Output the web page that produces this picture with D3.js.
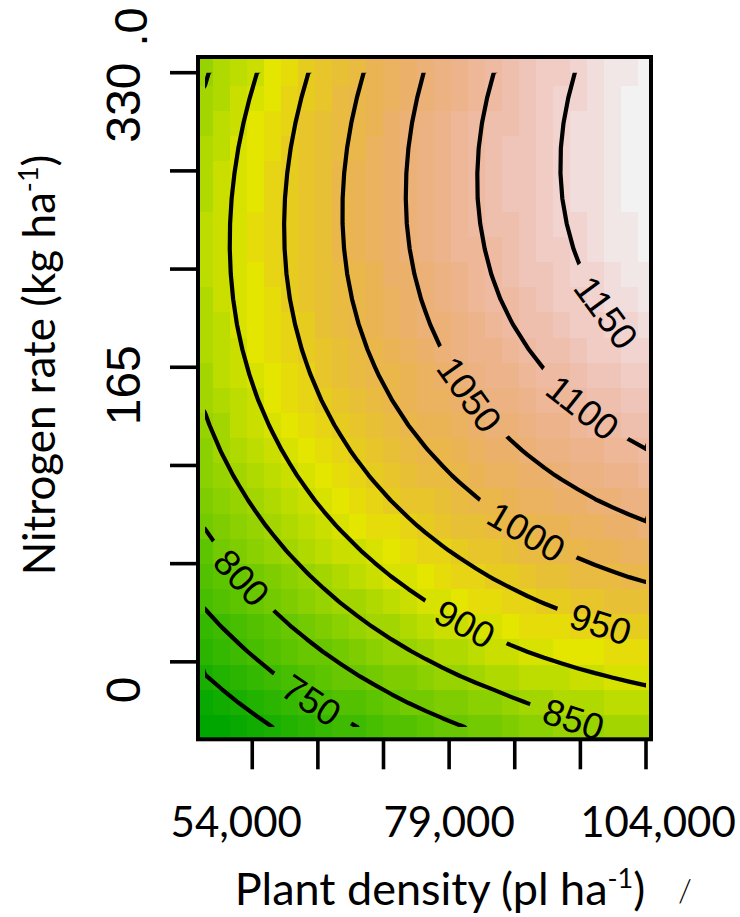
<!DOCTYPE html>
<html><head><meta charset="utf-8">
<script src="https://cdn.jsdelivr.net/npm/d3@7"></script>
<style>html,body{margin:0;padding:0;background:#fff;} svg{display:block;}</style>
</head><body>
<svg id="chart" width="740" height="917"></svg>
<script>
// ---------------- data ----------------
const densityGrid = [48000,50154,52308,54462,56615,58769,60923,63077,65231,67385,69538,71692,73846,76000,78154,80308,82462,84615,86769,88923,91077,93231,95385,97538,99692,101846,104000];
const nitrogenGrid = [-36.5,-22.4,-8.3,5.8,19.9,34.0,48.1,62.2,76.3,90.4,104.5,118.6,132.7,146.7,160.8,174.9,189.0,203.1,217.2,231.3,245.4,259.5,273.6,287.7,301.8,315.9,330.0];
// yield (kg ha-1), one row per nitrogen level (bottom to top)
const yieldGrid = [
[654.0,666.1,677.9,689.3,700.3,711.0,721.3,731.3,740.9,750.1,759.0,767.5,775.7,783.5,790.9,798.0,804.7,811.1,819.1,825.7,832.0,837.9,843.5,848.7,853.5,857.0,860.1],
[676.8,689.1,701.1,712.7,724.0,734.9,745.5,755.6,765.5,774.9,784.0,792.8,801.2,809.2,816.9,824.2,831.1,837.7,844.9,851.3,857.3,862.9,868.2,873.1,877.7,881.4,884.8],
[698.3,710.9,723.1,735.0,746.5,757.6,768.4,778.8,788.8,798.5,807.8,816.8,825.4,833.7,841.6,849.1,856.3,863.1,869.5,875.6,881.3,886.7,891.7,896.4,900.7,904.6,908.2],
[718.7,731.5,743.9,756.0,767.7,779.0,790.0,800.7,810.9,820.9,830.4,839.6,848.4,856.9,865.0,872.8,880.2,887.2,893.9,900.2,906.2,911.8,917.0,921.9,926.4,930.5,934.3],
[737.7,750.8,763.4,775.7,787.7,799.2,810.5,821.3,831.8,842.0,851.7,861.2,870.2,878.9,887.3,895.2,902.9,910.1,917.0,923.6,929.7,935.6,941.0,946.1,950.9,955.2,959.3],
[755.6,768.8,781.7,794.3,806.4,818.2,829.7,840.8,851.5,861.8,871.9,881.5,890.8,899.7,908.3,916.5,924.3,931.8,938.9,945.7,952.1,958.1,963.8,969.2,974.1,978.7,983.0],
[772.2,785.7,798.8,811.6,823.9,836.0,847.6,859.0,869.9,880.5,890.7,900.6,910.1,919.3,928.0,936.5,944.5,952.3,959.6,966.6,973.2,979.5,985.4,991.0,996.1,1001.0,1005.4],
[787.6,801.3,814.7,827.6,840.2,852.5,864.4,875.9,887.1,897.9,908.4,918.5,928.2,937.6,946.6,955.2,963.5,971.5,979.1,986.3,993.1,999.6,1005.8,1011.5,1016.9,1022.0,1026.7],
[801.8,815.7,829.3,842.5,855.3,867.8,879.9,891.7,903.1,914.1,924.8,935.1,945.1,954.7,963.9,972.8,981.3,989.5,997.3,1004.7,1011.8,1018.5,1024.9,1030.9,1036.5,1041.8,1046.7],
[814.7,828.8,842.6,856.1,869.1,881.8,894.2,906.2,917.8,929.0,940.0,950.5,960.7,970.5,980.0,989.1,997.8,1006.2,1014.2,1021.9,1029.2,1036.1,1042.7,1049.0,1054.8,1060.3,1065.5],
[826.4,840.8,854.8,868.4,881.7,894.7,907.2,919.4,931.3,942.8,953.9,964.7,975.1,985.1,994.8,1004.2,1013.1,1021.7,1030.0,1037.9,1045.4,1052.6,1059.4,1065.8,1071.9,1077.7,1083.0],
[836.9,851.5,865.7,879.6,893.1,906.2,919.0,931.5,943.5,955.3,966.6,977.6,988.2,998.5,1008.4,1018.0,1027.2,1036.0,1044.5,1052.6,1060.4,1067.8,1074.8,1081.5,1087.8,1093.7,1099.3],
[846.1,860.9,875.4,889.5,903.2,916.6,929.6,942.3,954.6,966.5,978.1,989.3,1000.2,1010.7,1020.8,1030.6,1040.0,1049.1,1057.8,1066.1,1074.1,1081.7,1089.0,1095.9,1102.4,1108.6,1114.4],
[854.1,869.1,883.8,898.2,912.1,925.7,939.0,951.9,964.4,976.5,988.4,999.8,1010.9,1021.6,1032.0,1042.0,1051.6,1060.9,1069.8,1078.4,1086.6,1094.4,1101.9,1109.1,1115.8,1122.2,1128.3],
[860.9,876.1,891.0,905.6,919.8,933.6,947.1,960.2,972.9,985.3,997.4,1009.0,1020.3,1031.3,1041.9,1052.1,1062.0,1071.5,1080.6,1089.4,1097.9,1105.9,1113.6,1121.0,1128.0,1134.6,1140.9],
[866.4,881.9,897.0,911.8,926.2,940.3,954.0,967.3,980.3,992.9,1005.2,1017.0,1028.6,1039.8,1050.6,1061.0,1071.1,1080.9,1090.2,1099.2,1107.9,1116.2,1124.1,1131.7,1138.9,1145.8,1152.3],
[870.7,886.4,901.8,916.8,931.4,945.7,959.6,973.2,986.4,999.2,1011.7,1023.8,1035.6,1047.0,1058.0,1068.7,1079.0,1089.0,1098.6,1107.8,1116.7,1125.2,1133.4,1141.2,1148.6,1155.7,1162.4],
[873.8,889.7,905.3,920.5,935.4,949.9,964.1,977.8,991.3,1004.3,1017.0,1029.4,1041.4,1053.0,1064.3,1075.2,1085.7,1095.9,1105.7,1115.2,1124.3,1133.0,1141.4,1149.4,1157.1,1164.4,1171.4],
[875.6,891.8,907.6,923.1,938.1,952.9,967.2,981.3,994.9,1008.2,1021.1,1033.7,1045.9,1057.8,1069.1,1080.2,1090.9,1101.3,1111.2,1120.8,1130.1,1139.0,1147.5,1155.7,1163.4,1171.0,1178.0],
[876.2,892.6,908.7,924.3,939.6,954.6,969.2,983.4,997.3,1010.8,1024.0,1036.8,1049.2,1061.3,1072.8,1084.0,1094.8,1105.4,1115.5,1125.3,1134.6,1143.7,1152.4,1160.6,1168.6,1176.2,1183.5],
[875.6,892.2,908.5,924.4,939.9,955.1,969.9,984.4,998.5,1012.2,1025.6,1038.6,1051.3,1063.6,1075.3,1086.6,1097.6,1108.3,1118.5,1128.4,1138.0,1147.1,1156.0,1164.5,1172.5,1180.3,1187.7],
[873.7,890.6,907.1,923.2,939.0,954.4,969.4,984.1,998.4,1012.4,1026.0,1039.2,1052.1,1064.6,1076.5,1088.0,1099.2,1109.9,1120.3,1130.3,1140.0,1149.4,1158.4,1167.0,1175.3,1183.2,1190.7],
[870.7,887.7,904.4,920.8,936.8,952.4,967.7,982.6,997.1,1011.3,1025.2,1038.6,1051.7,1064.5,1076.5,1088.1,1099.4,1110.3,1120.9,1131.1,1141.0,1150.4,1159.5,1168.3,1176.7,1184.7,1192.4],
[866.3,883.6,900.6,917.1,933.4,949.2,964.7,979.8,994.6,1009.0,1023.1,1036.8,1050.1,1063.1,1075.2,1087.1,1098.5,1109.5,1120.3,1130.6,1140.5,1150.2,1159.5,1168.3,1177.0,1185.1,1192.9],
[860.8,878.3,895.5,912.3,928.7,944.8,960.5,975.9,990.9,1005.5,1019.8,1033.7,1047.3,1060.5,1072.8,1084.7,1096.3,1107.5,1118.4,1128.8,1139.0,1148.7,1158.2,1167.3,1175.9,1184.3,1192.2],
[854.0,871.7,889.1,906.2,922.8,939.1,955.1,970.7,985.9,1000.7,1015.3,1029.4,1043.2,1056.6,1069.1,1081.2,1092.8,1104.2,1115.2,1125.9,1136.1,1146.0,1155.6,1164.9,1173.7,1182.1,1190.3],
[846.0,864.0,881.6,898.8,915.7,932.2,948.4,964.2,979.7,994.8,1009.5,1023.9,1037.9,1051.5,1064.1,1076.3,1088.2,1099.7,1110.9,1121.7,1132.1,1142.2,1151.9,1161.2,1170.2,1178.8,1187.1]
];
const contourLevels = [700,750,800,850,900,950,1000,1050,1100,1150];
const densityTicks = [54000,62333,70667,79000,87333,95667,104000];
const densityTickLabels = ["54,000","79,000","104,000"];
const densityLabelValues = [54000,79000,104000];
const nitrogenTicks = [0,55,110,165,220,275,330];
const nitrogenTickLabels = ["0","165","330"];
const nitrogenLabelValues = [0,165,330];

// ---------------- layout ----------------
const frame = {left:198, right:651, top:57, bottom:739.3};
const x = d3.scaleLinear().domain([48000,104000]).range([205,646]);
const y = d3.scaleLinear().domain([-36.5,330]).range([727,72.7]);
const nColors = 44;
// label anchor targets (data space) and extra gap after the label
const contourLabelTargets = [
  {level:1150, d:98665, n:194.8, pad:14},
  {level:1100, d:95491, n:139.9, pad:0},
  {level:1050, d:80761, n:147.2, pad:0},
  {level:1000, d:88126, n:67.7, pad:0},
  {level:950,  d:97903, n:16.2, pad:14},
  {level:900,  d:80253, n:15.0, pad:0},
  {level:850,  d:94602, n:-34.8, pad:20},
  {level:800,  d:52190, n:45.3, pad:0},
  {level:750,  d:60952, n:-25.3, pad:0}
];
const xLabelDx = [-16, 0, 12];
const yLabelDy = [28, 18, 30];

const svg = d3.select("#chart");

// terrain.colors (R) ----------------------------------------------------------
function hsv(h, s, v) {
  h = ((h % 1) + 1) % 1;
  const i = Math.floor(h * 6), f = h * 6 - i;
  const p = v * (1 - s), q = v * (1 - f * s), t = v * (1 - (1 - f) * s);
  let r, g, b;
  switch (i % 6) {
    case 0: r = v; g = t; b = p; break;
    case 1: r = q; g = v; b = p; break;
    case 2: r = p; g = v; b = t; break;
    case 3: r = p; g = q; b = v; break;
    case 4: r = t; g = p; b = v; break;
    default: r = v; g = p; b = q;
  }
  return d3.rgb(Math.round(r * 255), Math.round(g * 255), Math.round(b * 255)).formatHex();
}
function terrainColors(n) {
  const k = Math.floor(n / 2), out = [];
  for (let j = 0; j < k; j++) {
    const t = k > 1 ? j / (k - 1) : 0;
    out.push(hsv(4/12 + (2/12 - 4/12) * t, 1, 0.65 + 0.25 * t));
  }
  const m = n - k + 1;
  for (let j = 1; j < m; j++) {
    const t = j / (m - 1);
    out.push(hsv(2/12 * (1 - t), 1 - t, 0.9 + 0.05 * t));
  }
  return out;
}
const palette = terrainColors(nColors);
const allZ = yieldGrid.flat();
const zMin = d3.min(allZ), zMax = d3.max(allZ);
const colorQ = d3.scaleQuantize().domain([zMin, zMax]).range(palette);

// cells ------------------------------------------------------------------------
const xEdges = [frame.left];
for (let i = 1; i < densityGrid.length; i++) xEdges.push((x(densityGrid[i-1]) + x(densityGrid[i])) / 2);
xEdges.push(frame.right);
const yEdges = [frame.bottom];
for (let j = 1; j < nitrogenGrid.length; j++) yEdges.push((y(nitrogenGrid[j-1]) + y(nitrogenGrid[j])) / 2);
yEdges.push(frame.top);

const cells = [];
yieldGrid.forEach((row, j) => row.forEach((z, i) => cells.push({i, j, z})));
svg.append("g").selectAll("rect").data(cells).join("rect")
  .attr("x", d => xEdges[d.i])
  .attr("y", d => yEdges[d.j + 1])
  .attr("width", d => xEdges[d.i + 1] - xEdges[d.i] + 0.6)
  .attr("height", d => yEdges[d.j] - yEdges[d.j + 1] + 0.6)
  .attr("fill", d => colorQ(d.z))
  .attr("shape-rendering", "crispEdges");

// contours ---------------------------------------------------------------------
const nx = densityGrid.length, ny = nitrogenGrid.length;
const gx = d3.scaleLinear().domain([0, nx - 1]).range([densityGrid[0], densityGrid[nx - 1]]);
const gy = d3.scaleLinear().domain([0, ny - 1]).range([nitrogenGrid[0], nitrogenGrid[ny - 1]]);
const contours = d3.contours().size([nx, ny]).thresholds(contourLevels)(allZ);
const toPx = (c) => [x(gx(c[0] - 0.5)), y(gy(c[1] - 0.5))];
const proj = d3.geoTransform({ point(a, b) { const p = toPx([a, b]); this.stream.point(p[0], p[1]); } });
const path = d3.geoPath(proj);

const clipX0 = x(densityGrid[0]), clipX1 = x(densityGrid[nx - 1]);
const clipY0 = y(nitrogenGrid[ny - 1]), clipY1 = y(nitrogenGrid[0]);
const defs = svg.append("defs");
defs.append("clipPath").attr("id", "gridclip").append("rect")
  .attr("x", clipX0).attr("y", clipY0).attr("width", clipX1 - clipX0).attr("height", clipY1 - clipY0);

const inside = p => p[0] >= clipX0 - 0.01 && p[0] <= clipX1 + 0.01 && p[1] >= clipY0 - 0.01 && p[1] <= clipY1 + 0.01;

// label placement on each line
const labelFont = "'Liberation Sans', Arial, sans-serif";
const labelSize = 37;
const labelG = svg.append("g");
const placed = [];
contourLabelTargets.forEach(t => {
  const c = contours.find(cc => cc.value === t.level);
  if (!c) return;
  const tx = x(t.d), ty = y(t.n);
  let best = null;
  c.coordinates.forEach(poly => poly.forEach(ring => {
    const pts = ring.map(toPx);
    for (let j = 0; j < pts.length - 1; j++) {
      const a = pts[j], b = pts[j + 1];
      if (!inside(a) || !inside(b)) continue;
      const dx = b[0] - a[0], dy = b[1] - a[1], L2 = dx * dx + dy * dy;
      if (!L2) continue;
      let u = ((tx - a[0]) * dx + (ty - a[1]) * dy) / L2;
      u = Math.max(0, Math.min(1, u));
      const qx = a[0] + u * dx, qy = a[1] + u * dy;
      const dd = (qx - tx) ** 2 + (qy - ty) ** 2;
      if (!best || dd < best.dd) {
        const pA = pts[Math.max(0, j - 1)], pB = pts[Math.min(pts.length - 1, j + 2)];
        best = {dd, qx, qy, ang: Math.atan2(pB[1] - pA[1], pB[0] - pA[0])};
      }
    }
  }));
  if (!best) return;
  let ang = best.ang * 180 / Math.PI;
  if (ang > 90) ang -= 180;
  if (ang <= -90) ang += 180;
  const txt = labelG.append("text")
    .attr("transform", `translate(${best.qx},${best.qy}) rotate(${ang})`)
    .attr("text-anchor", "middle").attr("dy", "0.36em")
    .attr("font-family", labelFont).attr("font-size", labelSize).attr("fill", "#000")
    .text(String(t.level));
  const w = txt.node().getComputedTextLength();
  placed.push({x: best.qx, y: best.qy, ang, w, pad: t.pad});
});

const mask = defs.append("mask").attr("id", "labelmask").attr("maskUnits", "userSpaceOnUse")
  .attr("x", 0).attr("y", 0).attr("width", 740).attr("height", 917);
mask.append("rect").attr("x", 0).attr("y", 0).attr("width", 740).attr("height", 917).attr("fill", "#fff");
placed.forEach(p => {
  mask.append("rect")
    .attr("transform", `translate(${p.x},${p.y}) rotate(${p.ang})`)
    .attr("x", -p.w / 2 - 15).attr("y", -18).attr("width", p.w + 30 + p.pad).attr("height", 36)
    .attr("fill", "#000");
});

svg.insert("g", () => labelG.node())
  .attr("clip-path", "url(#gridclip)")
  .append("g").attr("mask", "url(#labelmask)")
  .selectAll("path").data(contours).join("path")
  .attr("d", path).attr("fill", "none").attr("stroke", "#000")
  .attr("stroke-width", 4.2).attr("stroke-linejoin", "round").attr("stroke-linecap", "round");

// frame & axes -------------------------------------------------------------------
svg.append("rect").attr("x", frame.left).attr("y", frame.top)
  .attr("width", frame.right - frame.left).attr("height", frame.bottom - frame.top)
  .attr("fill", "none").attr("stroke", "#000").attr("stroke-width", 4);

svg.append("g").selectAll("line").data(densityTicks).join("line")
  .attr("x1", d => x(d)).attr("x2", d => x(d))
  .attr("y1", frame.bottom).attr("y2", frame.bottom + 30)
  .attr("stroke", "#000").attr("stroke-width", 3.6);
svg.append("g").selectAll("line").data(nitrogenTicks).join("line")
  .attr("y1", d => y(d)).attr("y2", d => y(d))
  .attr("x1", frame.left).attr("x2", frame.left - 28)
  .attr("stroke", "#000").attr("stroke-width", 3.6);

const calFont = "Lato, 'Open Sans', sans-serif";
svg.append("g").selectAll("text").data(densityLabelValues).join("text")
  .attr("x", (d, i) => x(d) + xLabelDx[i]).attr("y", 837)
  .attr("text-anchor", "middle").attr("font-family", calFont).attr("font-size", 42)
  .attr("fill", "#000").text((d, i) => densityTickLabels[i]);

svg.append("g").selectAll("text").data(nitrogenLabelValues).join("text")
  .attr("transform", (d, i) => `translate(140,${y(d) + yLabelDy[i]}) rotate(-90)`)
  .attr("text-anchor", "middle").attr("font-family", labelFont).attr("font-size", 48)
  .attr("fill", "#000").text((d, i) => nitrogenTickLabels[i]);

// stray fragment at the top (cropped label)
svg.append("text").attr("transform", "translate(147,27) rotate(-90)")
  .attr("text-anchor", "middle").attr("font-family", labelFont).attr("font-size", 47)
  .attr("fill", "#000").text(".0");

// axis titles
const xt = svg.append("text").attr("x", 440).attr("y", 905).attr("text-anchor", "middle")
  .attr("font-family", calFont).attr("font-size", 45).attr("fill", "#000");
xt.append("tspan").text("Plant density (pl ha");
xt.append("tspan").attr("dy", -17).attr("font-size", 27).text("-1");
xt.append("tspan").attr("dy", 17).text(")");
svg.append("text").attr("x", 685).attr("y", 902).attr("text-anchor", "middle")
  .attr("font-family", calFont).attr("font-size", 32).attr("font-weight", 300).attr("fill", "#000").text("/");

const yt = svg.append("text").attr("transform", "translate(55,365) rotate(-90)").attr("text-anchor", "middle")
  .attr("font-family", calFont).attr("font-size", 44).attr("fill", "#000");
yt.append("tspan").text("Nitrogen rate (kg ha");
yt.append("tspan").attr("dy", -17).attr("font-size", 27).text("-1");
yt.append("tspan").attr("dy", 17).text(")");
</script>
</body></html>
